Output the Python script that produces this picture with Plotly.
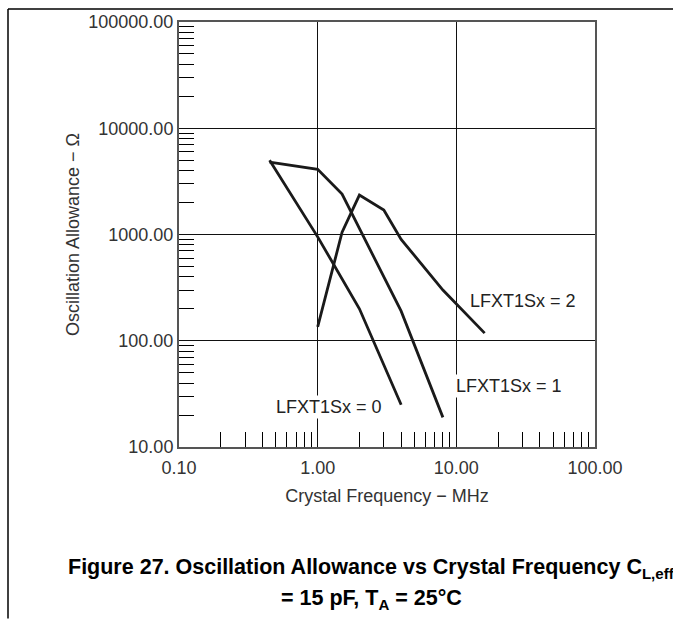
import plotly.graph_objects as go

# -----------------------
# Data
# -----------------------
freq_s0 = [0.45, 1.0, 2.0, 4.0]
allow_s0 = [5000, 950, 200, 25]

freq_s1 = [0.45, 1.0, 1.5, 4.0, 8.0]
allow_s1 = [4800, 4100, 2400, 190, 19]

freq_s2 = [1.0, 1.5, 2.0, 3.0, 4.0, 8.0, 16.0]
allow_s2 = [135, 1050, 2350, 1700, 900, 300, 118]

series_names = ["LFXT1Sx = 0", "LFXT1Sx = 1", "LFXT1Sx = 2"]

x_ticks = [0.1, 1, 10, 100]
x_ticktext = ["0.10", "1.00", "10.00", "100.00"]
y_ticks = [10, 100, 1000, 10000, 100000]
y_ticktext = ["10.00", "100.00", "1000.00", "10000.00", "100000.00"]

# label positions in log10 axis units
label_x = [0.082, 1.38, 1.484]
label_y = [1.376, 1.578, 2.371]

# -----------------------
# Layout geometry (pixels)
# -----------------------
W, H = 673, 620
L, R, T, B = 179, 78, 18, 173
pw, ph = W - L - R, H - T - B


def px_x(x):
    return (x - L) / pw


def px_y(y):
    return (H - B - y) / ph


FONT = "Liberation Sans, Arial, sans-serif"
LINE = "#1a1a1a"

x_minor = [m * 10 ** e for e in range(-1, 2) for m in range(2, 10)]
y_minor = [m * 10 ** e for e in range(1, 5) for m in range(2, 10)]

fig = go.Figure()
for xs, ys, name in zip([freq_s0, freq_s1, freq_s2],
                        [allow_s0, allow_s1, allow_s2], series_names):
    fig.add_trace(go.Scatter(x=xs, y=ys, mode="lines", name=name,
                             line=dict(color=LINE, width=2.8),
                             showlegend=False))

for name, lx, ly in zip(series_names, label_x, label_y):
    fig.add_annotation(x=lx, y=ly, xref="x", yref="y", text=name,
                       showarrow=False, bgcolor="white",
                       font=dict(family=FONT, size=18, color="#222"))

axis_common = dict(
    type="log",
    showline=True, linecolor="#555", linewidth=2, mirror=True,
    showgrid=True, gridcolor="#111", gridwidth=1,
    ticks="", zeroline=False,
    tickfont=dict(family=FONT, size=18, color="#333"),
)

fig.update_xaxes(
    range=[-1, 2], tickvals=x_ticks, ticktext=x_ticktext,
    ticklabelstandoff=3,
    minor=dict(tickvals=x_minor, ticks="inside", ticklen=15,
               tickcolor="black", tickwidth=1, showgrid=False),
    title=dict(text="Crystal Frequency − MHz", standoff=13,
               font=dict(family=FONT, size=18, color="#333")),
    **axis_common,
)
fig.update_yaxes(
    range=[1, 5], tickvals=y_ticks, ticktext=y_ticktext,
    minor=dict(tickvals=y_minor, ticks="inside", ticklen=15,
               tickcolor="black", tickwidth=1, showgrid=False),
    title=dict(text="Oscillation Allowance − Ω", standoff=4,
               font=dict(family=FONT, size=18, color="#333")),
    **axis_common,
)

# page frame lines (left and top)
fig.add_shape(type="line", xref="paper", yref="paper",
              x0=px_x(8), x1=px_x(8), y0=px_y(5), y1=px_y(H),
              line=dict(color="black", width=1.5))
fig.add_shape(type="line", xref="paper", yref="paper",
              x0=px_x(8), x1=px_x(W), y0=px_y(5), y1=px_y(5),
              line=dict(color="black", width=1.5))

# figure caption
fig.add_annotation(xref="paper", yref="paper", x=px_x(371), y=px_y(570),
                   text="Figure 27. Oscillation Allowance vs Crystal Frequency C<sub>L,eff</sub>",
                   showarrow=False, xanchor="center", yanchor="middle",
                   font=dict(family=FONT, size=21.5, color="black", weight="bold"))
fig.add_annotation(xref="paper", yref="paper", x=px_x(371), y=px_y(601),
                   text="= 15 pF, T<sub>A</sub> = 25°C",
                   showarrow=False, xanchor="center", yanchor="middle",
                   font=dict(family=FONT, size=21.5, color="black", weight="bold"))

fig.update_layout(
    width=W, height=H,
    margin=dict(l=L, r=R, t=T, b=B),
    paper_bgcolor="white", plot_bgcolor="white",
)

# drop the browser's default body margin so the figure sits at (0, 0)
fig.write_html("out.html", config={"displayModeBar": False},
               post_script="document.body.style.margin='0';")
